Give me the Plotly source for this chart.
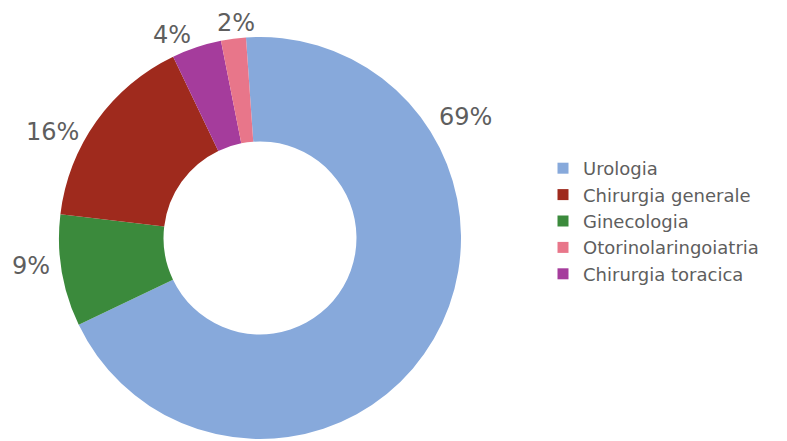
import plotly.graph_objects as go

# Slices in drawing order (clockwise from the top)
slice_labels = ["Urologia", "Ginecologia", "Chirurgia generale", "Chirurgia toracica", "Otorinolaringoiatria"]
slice_values = [69, 9, 16, 4, 2]
slice_colors = ["#87a9db", "#3b8a3c", "#9f2a1d", "#a53c9c", "#e8768a"]

# Legend order
legend_labels = ["Urologia", "Chirurgia generale", "Ginecologia", "Otorinolaringoiatria", "Chirurgia toracica"]

# Where each percentage label sits (pixels from the top-left corner)
label_pos = [(465, 117), (31, 266), (53, 132), (172, 35), (236, 23)]

color_of = dict(zip(slice_labels, slice_colors))
FONT = "'DejaVu Sans', Verdana, sans-serif"
TEXT_COLOR = "#5e5e5e"
W, H = 787, 441

fig = go.Figure()

fig.add_trace(go.Pie(
    labels=slice_labels,
    values=slice_values,
    sort=False,
    direction="clockwise",
    rotation=-4,
    hole=0.48,
    marker=dict(colors=slice_colors, line=dict(width=0)),
    textinfo="none",
    showlegend=False,
    domain=dict(x=[59 / W, 461 / W], y=[1 - 439 / H, 1 - 37 / H]),
    hoverinfo="label+percent",
))

# Percentage labels around the ring
for v, (px, py) in zip(slice_values, label_pos):
    fig.add_annotation(
        x=px / W, y=1 - py / H, xref="paper", yref="paper",
        text=f"{v}%", showarrow=False,
        xanchor="center", yanchor="middle",
        font=dict(family=FONT, size=24, color=TEXT_COLOR),
    )

# Legend entries, listed in their own order
for name in legend_labels:
    fig.add_trace(go.Scatter(
        x=[None], y=[None], mode="markers", name=name,
        marker=dict(symbol="square", size=11, color=color_of[name]),
        showlegend=True,
    ))

fig.update_layout(
    width=W, height=H,
    margin=dict(l=0, r=0, t=0, b=0),
    paper_bgcolor="white",
    plot_bgcolor="white",
    xaxis=dict(visible=False),
    yaxis=dict(visible=False),
    legend=dict(
        x=543 / W, y=1 - 150 / H, xanchor="left", yanchor="top",
        font=dict(family=FONT, size=18, color=TEXT_COLOR),
        itemwidth=30, tracegroupgap=0,
        bgcolor="rgba(0,0,0,0)",
    ),
)

fig.write_html("out.html")
